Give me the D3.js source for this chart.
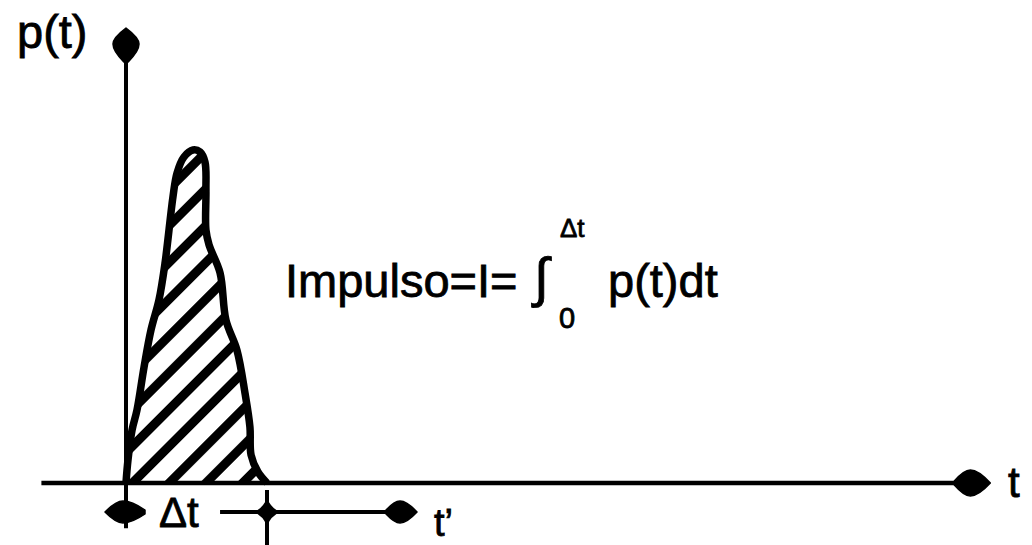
<!DOCTYPE html>
<html>
<head>
<meta charset="utf-8">
<script src="https://cdn.jsdelivr.net/npm/d3@7"></script>
<style>
  body { margin: 0; background: #fff; }
  svg text { font-family: "Liberation Sans", Arial, sans-serif; fill: #000; stroke: #000; stroke-width: 0.8px; }
</style>
</head>
<body>
<svg id="chart" width="1032" height="545"></svg>
<script>
// pulse p(t), t in units of the pulse duration (dt = 1), p relative to the peak
const pulseT = [0, 0.014, 0.043, 0.078, 0.128, 0.177, 0.234, 0.277, 0.333, 0.362, 0.411, 0.475,
                0.525, 0.560, 0.567, 0.567, 0.589, 0.667, 0.709, 0.787, 0.844, 0.879, 0.887, 0.936, 1.0];
const pulseP = [0, 0.069, 0.159, 0.219, 0.348, 0.459, 0.550, 0.661, 0.859, 0.931, 0.979, 1.0,
                0.994, 0.964, 0.880, 0.760, 0.715, 0.631, 0.489, 0.399, 0.270, 0.168, 0.084, 0.033, 0];

// axis extents (same units as the pulse)
const tAxis = [-0.6, 6.13];
const pAxis = [-0.07, 1.366];

const yLabel = "p(t)";
const xLabel = "t";
const formulaLeft = "Impulso=I=";
const formulaRight = "p(t)dt";
const upperLimit = "\u0394t";
const lowerLimit = "0";
const durationLabel = "\u0394t";
const shiftedLabel = "t\u2019";

const svg = d3.select('#chart');

const xScale = d3.scaleLinear().domain([0, 1]).range([126, 267]);
const yScale = d3.scaleLinear().domain([0, 1]).range([483, 150]);

const pulse = pulseT.map((t, i) => ({t: t, p: pulseP[i]}));

// hatching pattern
const defs = svg.append('defs');
defs.append('pattern')
    .attr('id', 'hatch')
    .attr('patternUnits', 'userSpaceOnUse')
    .attr('width', 30)
    .attr('height', 26)
    .attr('patternTransform', 'translate(126,483) rotate(-45)')
  .append('rect')
    .attr('x', 0).attr('y', 0)
    .attr('width', 30).attr('height', 9)
    .attr('fill', '#000');

const area = d3.area()
    .x(d => xScale(d.t))
    .y0(yScale(0))
    .y1(d => yScale(d.p))
    .curve(d3.curveCatmullRom);

const line = d3.line()
    .x(d => xScale(d.t))
    .y(d => yScale(d.p))
    .curve(d3.curveCatmullRom);

svg.append('path')
    .datum(pulse)
    .attr('d', area)
    .attr('fill', 'url(#hatch)');

svg.append('path')
    .datum(pulse)
    .attr('d', line)
    .attr('fill', 'none')
    .attr('stroke', '#000')
    .attr('stroke-width', 7.5)
    .attr('stroke-linejoin', 'round');

// teardrop arrow head, tip at (x, y), pointing along angle (degrees)
function arrowHead(x, y, angle, front, back, half) {
    const w = -front, tail = -front - back;
    svg.append('path')
        .attr('d', `M0,0 Q${w * 0.6},${-half} ${w},${-half} Q${w - back * 0.4},${-half} ${tail},${-2} L${tail},2 Q${w - back * 0.4},${half} ${w},${half} Q${w * 0.6},${half} 0,0 Z`)
        .attr('transform', `translate(${x},${y}) rotate(${angle})`)
        .attr('fill', '#000')
        .attr('stroke', '#000')
        .attr('stroke-width', 1.5)
        .attr('stroke-linejoin', 'round');
}

// axes
svg.append('line')
    .attr('x1', xScale(tAxis[0])).attr('x2', xScale(tAxis[1]) - 20)
    .attr('y1', yScale(0)).attr('y2', yScale(0))
    .attr('stroke', '#000').attr('stroke-width', 4.5);
arrowHead(xScale(tAxis[1]), yScale(0), 0, 20, 16, 13);

svg.append('line')
    .attr('x1', xScale(0)).attr('x2', xScale(0))
    .attr('y1', yScale(pAxis[0]) + 22).attr('y2', yScale(pAxis[1]) + 20)
    .attr('stroke', '#000').attr('stroke-width', 4);
arrowHead(xScale(0), yScale(pAxis[1]), -90, 16, 18, 13);

// duration marker below the axis
const rowY = 512;
arrowHead(xScale(0) - 21, rowY, 180, 18, 22, 11);

svg.append('line')
    .attr('x1', xScale(0.667)).attr('x2', xScale(2.064) - 15)
    .attr('y1', rowY).attr('y2', rowY)
    .attr('stroke', '#000').attr('stroke-width', 4);
arrowHead(xScale(2.064), rowY, 0, 17, 14, 11);

// cross mark at the end of the pulse
const cx = xScale(1);
svg.append('line')
    .attr('x1', cx).attr('x2', cx)
    .attr('y1', rowY - 22).attr('y2', 545)
    .attr('stroke', '#000').attr('stroke-width', 4);
svg.append('path')
    .attr('d', `M${cx},${rowY - 14} Q${cx + 4},${rowY - 4} ${cx + 13},${rowY} Q${cx + 4},${rowY + 4} ${cx},${rowY + 14} Q${cx - 4},${rowY + 4} ${cx - 13},${rowY} Q${cx - 4},${rowY - 4} ${cx},${rowY - 14} Z`)
    .attr('fill', '#000');

// labels
svg.append('text').attr('x', 17).attr('y', 48).attr('font-size', 47).text(yLabel);
svg.append('text').attr('x', 1008).attr('y', 497).attr('font-size', 42).text(xLabel);
svg.append('text').attr('x', 285).attr('y', 297).attr('font-size', 47).text(formulaLeft);
svg.append('text').attr('x', 534).attr('y', 296).attr('font-size', 54).text('\u222B');
svg.append('text').attr('x', 560).attr('y', 237).attr('font-size', 26).text(upperLimit);
svg.append('text').attr('x', 559).attr('y', 328).attr('font-size', 29).text(lowerLimit);
svg.append('text').attr('x', 608).attr('y', 297).attr('font-size', 47).text(formulaRight);
svg.append('text').attr('x', 159).attr('y', 527).attr('font-size', 42).text(durationLabel);
svg.append('text').attr('x', 434).attr('y', 536).attr('font-size', 38).text(shiftedLabel);
</script>
</body>
</html>
